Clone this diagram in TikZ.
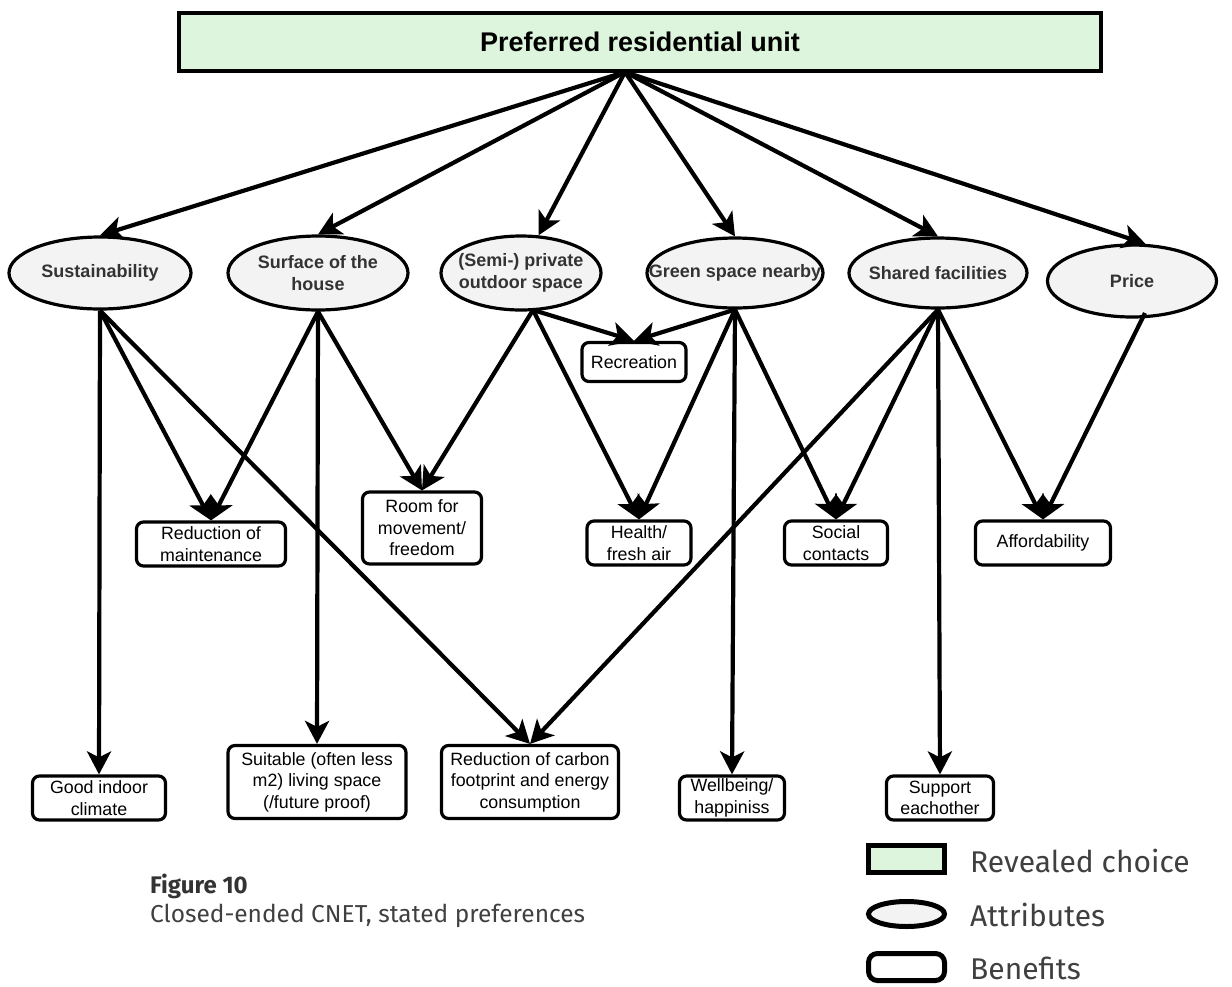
\documentclass[tikz,border=0pt]{standalone}
\usepackage{fontspec}
\setmainfont{Liberation Sans}
\newfontfamily\capfont{Fira Sans}
\usetikzlibrary{shapes.geometric,arrows.meta}
\definecolor{topgreen}{HTML}{DDF4DD}
\definecolor{attrgrey}{HTML}{F3F3F3}
\definecolor{txtgrey}{HTML}{333333}
\definecolor{capgrey}{HTML}{404040}
\begin{document}
\begin{tikzpicture}[x=1pt,y=-1pt,
 every node/.style={inner sep=0pt, align=center},
 choice/.style={draw, line width=3.2pt, fill=topgreen, minimum width=922pt, minimum height=58pt, font=\fontsize{27}{31}\selectfont\bfseries},
 attr/.style={draw, ellipse, line width=3.2pt, fill=attrgrey},
 attrtxt/.style={text=txtgrey, font=\fontsize{18}{22}\selectfont\bfseries},
 benefit/.style={draw, rounded corners=7pt, line width=3.2pt, fill=white, font=\fontsize{17.8}{21.5}\selectfont},
 link/.style={line width=4.2pt, -{Stealth[length=23pt,width=24pt,inset=6pt]}},
 legtext/.style={anchor=base west, text=capgrey, font=\capfont\fontsize{30}{34}\selectfont},
]
\useasboundingbox (0,0) rectangle (1232,986);

% top
\node[choice] (top) at (640,42) {Preferred residential unit};
\coordinate (hub) at (625,72);

% attributes
\node[attr, minimum width=182pt, minimum height=72pt] (sus) at (100,273) {};
\node[attrtxt] (sust) at (sus) {Sustainability};
\node[attr, minimum width=180pt, minimum height=74pt] (surf) at (318,273) {};
\node[attrtxt] (surft) at (surf) {Surface of the\\house};
\node[attr, minimum width=160pt, minimum height=74pt] (semi) at (521,273) {};
\node[attrtxt] (semit) at (semi) {(Semi-) private\\outdoor space};
\node[attr, minimum width=176pt, minimum height=70pt] (green) at (735,273) {};
\node[attrtxt] (greent) at (green) {Green space nearby};
\node[attr, minimum width=178pt, minimum height=70pt] (shared) at (938,273) {};
\node[attrtxt] (sharedt) at (shared) {Shared facilities};
\node[attr, minimum width=169pt, minimum height=72pt] (price) at (1132,281) {};
\node[attrtxt] (pricet) at (price) {Price};

% benefits
\node[benefit, minimum width=104pt, minimum height=39pt] (rec) at (634,362) {Recreation};
\node[benefit, minimum width=149pt, minimum height=44pt] (rom) at (211,544) {Reduction of\\maintenance};
\node[benefit, minimum width=119pt, minimum height=72pt] (room) at (422,528) {Room for\\movement/\\freedom};
\node[benefit, minimum width=104pt, minimum height=44pt] (health) at (639,543) {Health/\\fresh air};
\node[benefit, minimum width=103pt, minimum height=44pt] (social) at (836,543) {Social\\contacts};
\node[benefit, minimum width=135pt, minimum height=44pt] (afford) at (1043,543) {Affordability};
\node[benefit, minimum width=133pt, minimum height=44pt] (gic) at (99,798) {Good indoor\\climate};
\node[benefit, minimum width=178pt, minimum height=73pt] (suit) at (317,782) {Suitable (often less\\m2) living space\\(/future proof)};
\node[benefit, minimum width=177pt, minimum height=73pt] (carbon) at (530,782) {Reduction of carbon\\footprint and energy\\consumption};
\node[benefit, minimum width=105pt, minimum height=44pt] (well) at (732,798) {Wellbeing/\\happiniss};
\node[benefit, minimum width=107pt, minimum height=44pt] (support) at (940,798) {Support\\eachother};

% top links
\draw[link] (hub) -- (sus.north);
\draw[link] (hub) -- (surf.north);
\draw[link] (hub) -- (semi.65);
\draw[link] (hub) -- (green.north);
\draw[link] (hub) -- (shared.north);
\draw[link] (hub) -- (price.70);

% lower links
\coordinate (semiout) at (533,310);
\coordinate (priceout) at (1145,313);
\draw[link] (sus.south) -- (gic.north);
\draw[link] (sus.south) -- (rom.north);
\draw[link] (sus.south) -- (carbon.north);
\draw[link] (surf.south) -- (rom.north);
\draw[link] (surf.south) -- (room.north);
\draw[link] (surf.south) -- (suit.north);
\draw[link] (semiout) -- (rec.north);
\draw[link] (semiout) -- (room.north);
\draw[link] (semiout) -- (health.north);
\draw[link] (green.south) -- (rec.north);
\draw[link] (green.south) -- (health.north);
\draw[link] (green.south) -- (well.north);
\draw[link] (green.south) -- (social.north);
\draw[link] (shared.south) -- (carbon.north);
\draw[link] (shared.south) -- (social.north);
\draw[link] (shared.south) -- (support.north);
\draw[link] (shared.south) -- (afford.north);
\draw[link] (priceout) -- (afford.north);

% caption
\node[anchor=base west, text=txtgrey, font=\capfont\bfseries\fontsize{24}{28}\selectfont] (figno) at (150,893) {Figure 10};
\node[anchor=base west, text=capgrey, font=\capfont\fontsize{24.5}{28}\selectfont] (figcap) at (150,922) {Closed-ended CNET, stated preferences};

% legend
\node[draw, line width=5pt, fill=topgreen, minimum width=76pt, minimum height=27pt] (lg1) at (906.5,859) {};
\node[draw, ellipse, line width=5pt, fill=attrgrey, minimum width=76pt, minimum height=25pt] (lg2) at (906.5,914) {};
\node[draw, rounded corners=9pt, line width=5pt, fill=white, minimum width=76pt, minimum height=27pt] (lg3) at (906.5,967) {};
\node[legtext] (lt1) at (970,872) {Revealed choice};
\node[legtext] (lt2) at (970,926) {Attributes};
\node[legtext] (lt3) at (970,979) {Benefits};
\end{tikzpicture}
\end{document}
